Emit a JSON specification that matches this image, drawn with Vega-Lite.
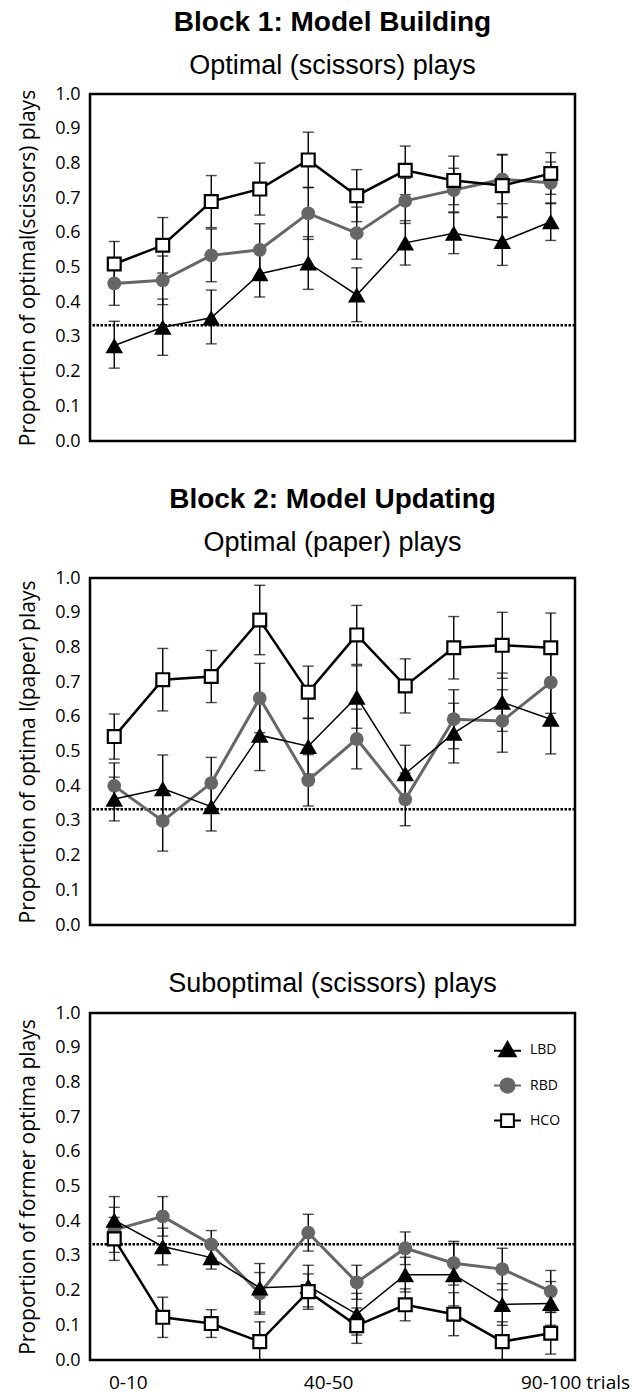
{
  "$schema": "https://vega.github.io/schema/vega-lite/v6.json",
  "padding": {"left": 16, "top": 7, "right": 0, "bottom": 0},
  "background": "white",
  "spacing": 32,
  "config": {
    "view": {"stroke": "black", "strokeWidth": 2.5},
    "axis": {"grid": false, "ticks": false, "domain": false, "labelFont": "Open Sans", "labelFontSize": 18, "labelColor": "black", "labelPadding": 10, "labelFlush": false, "titleFont": "Open Sans", "titleFontSize": 21, "titleFontWeight": "normal", "titleColor": "black", "titlePadding": 16},
    "title": {"font": "Liberation Sans", "subtitleFont": "Liberation Sans", "color": "black", "subtitleColor": "black", "anchor": "middle", "fontSize": 28, "fontWeight": "bold", "subtitleFontSize": 27, "subtitlePadding": 16, "offset": 6}
  },
  "datasets": {
    "d": [
      {"p":"a","g":"RBD","b":1,"v":0.454,"lo":0.391,"hi":0.517},
      {"p":"a","g":"RBD","b":2,"v":0.463,"lo":0.393,"hi":0.533},
      {"p":"a","g":"RBD","b":3,"v":0.535,"lo":0.459,"hi":0.611},
      {"p":"a","g":"RBD","b":4,"v":0.551,"lo":0.476,"hi":0.626},
      {"p":"a","g":"RBD","b":5,"v":0.656,"lo":0.581,"hi":0.731},
      {"p":"a","g":"RBD","b":6,"v":0.599,"lo":0.524,"hi":0.674},
      {"p":"a","g":"RBD","b":7,"v":0.692,"lo":0.627,"hi":0.757},
      {"p":"a","g":"RBD","b":8,"v":0.723,"lo":0.66,"hi":0.786},
      {"p":"a","g":"RBD","b":9,"v":0.754,"lo":0.684,"hi":0.824},
      {"p":"a","g":"RBD","b":10,"v":0.744,"lo":0.684,"hi":0.804},
      {"p":"a","g":"LBD","b":1,"v":0.275,"lo":0.21,"hi":0.345},
      {"p":"a","g":"LBD","b":2,"v":0.328,"lo":0.247,"hi":0.409},
      {"p":"a","g":"LBD","b":3,"v":0.355,"lo":0.28,"hi":0.435},
      {"p":"a","g":"LBD","b":4,"v":0.482,"lo":0.415,"hi":0.55},
      {"p":"a","g":"LBD","b":5,"v":0.513,"lo":0.437,"hi":0.589},
      {"p":"a","g":"LBD","b":6,"v":0.421,"lo":0.344,"hi":0.499},
      {"p":"a","g":"LBD","b":7,"v":0.571,"lo":0.507,"hi":0.635},
      {"p":"a","g":"LBD","b":8,"v":0.599,"lo":0.54,"hi":0.658},
      {"p":"a","g":"LBD","b":9,"v":0.575,"lo":0.506,"hi":0.644},
      {"p":"a","g":"LBD","b":10,"v":0.632,"lo":0.578,"hi":0.686},
      {"p":"a","g":"HCO","b":1,"v":0.51,"lo":0.445,"hi":0.575},
      {"p":"a","g":"HCO","b":2,"v":0.564,"lo":0.484,"hi":0.644},
      {"p":"a","g":"HCO","b":3,"v":0.69,"lo":0.615,"hi":0.765},
      {"p":"a","g":"HCO","b":4,"v":0.726,"lo":0.651,"hi":0.801},
      {"p":"a","g":"HCO","b":5,"v":0.81,"lo":0.73,"hi":0.89},
      {"p":"a","g":"HCO","b":6,"v":0.707,"lo":0.632,"hi":0.782},
      {"p":"a","g":"HCO","b":7,"v":0.78,"lo":0.71,"hi":0.85},
      {"p":"a","g":"HCO","b":8,"v":0.751,"lo":0.681,"hi":0.821},
      {"p":"a","g":"HCO","b":9,"v":0.736,"lo":0.646,"hi":0.826},
      {"p":"a","g":"HCO","b":10,"v":0.771,"lo":0.711,"hi":0.831},
      {"p":"b","g":"RBD","b":1,"v":0.401,"lo":0.335,"hi":0.467},
      {"p":"b","g":"RBD","b":2,"v":0.3,"lo":0.213,"hi":0.387},
      {"p":"b","g":"RBD","b":3,"v":0.409,"lo":0.334,"hi":0.483},
      {"p":"b","g":"RBD","b":4,"v":0.654,"lo":0.554,"hi":0.754},
      {"p":"b","g":"RBD","b":5,"v":0.417,"lo":0.343,"hi":0.491},
      {"p":"b","g":"RBD","b":6,"v":0.536,"lo":0.45,"hi":0.622},
      {"p":"b","g":"RBD","b":7,"v":0.362,"lo":0.286,"hi":0.438},
      {"p":"b","g":"RBD","b":8,"v":0.593,"lo":0.508,"hi":0.678},
      {"p":"b","g":"RBD","b":9,"v":0.588,"lo":0.498,"hi":0.678},
      {"p":"b","g":"RBD","b":10,"v":0.699,"lo":0.61,"hi":0.788},
      {"p":"b","g":"LBD","b":1,"v":0.363,"lo":0.3,"hi":0.426},
      {"p":"b","g":"LBD","b":2,"v":0.393,"lo":0.296,"hi":0.49},
      {"p":"b","g":"LBD","b":3,"v":0.341,"lo":0.271,"hi":0.411},
      {"p":"b","g":"LBD","b":4,"v":0.547,"lo":0.445,"hi":0.649},
      {"p":"b","g":"LBD","b":5,"v":0.515,"lo":0.435,"hi":0.595},
      {"p":"b","g":"LBD","b":6,"v":0.657,"lo":0.567,"hi":0.747},
      {"p":"b","g":"LBD","b":7,"v":0.436,"lo":0.354,"hi":0.518},
      {"p":"b","g":"LBD","b":8,"v":0.553,"lo":0.467,"hi":0.639},
      {"p":"b","g":"LBD","b":9,"v":0.642,"lo":0.558,"hi":0.726},
      {"p":"b","g":"LBD","b":10,"v":0.593,"lo":0.493,"hi":0.693},
      {"p":"b","g":"HCO","b":1,"v":0.543,"lo":0.478,"hi":0.608},
      {"p":"b","g":"HCO","b":2,"v":0.707,"lo":0.617,"hi":0.797},
      {"p":"b","g":"HCO","b":3,"v":0.716,"lo":0.641,"hi":0.791},
      {"p":"b","g":"HCO","b":4,"v":0.879,"lo":0.779,"hi":0.979},
      {"p":"b","g":"HCO","b":5,"v":0.671,"lo":0.596,"hi":0.746},
      {"p":"b","g":"HCO","b":6,"v":0.836,"lo":0.751,"hi":0.921},
      {"p":"b","g":"HCO","b":7,"v":0.689,"lo":0.611,"hi":0.767},
      {"p":"b","g":"HCO","b":8,"v":0.799,"lo":0.709,"hi":0.889},
      {"p":"b","g":"HCO","b":9,"v":0.806,"lo":0.711,"hi":0.901},
      {"p":"b","g":"HCO","b":10,"v":0.799,"lo":0.699,"hi":0.899},
      {"p":"c","g":"RBD","b":1,"v":0.375,"lo":0.31,"hi":0.44},
      {"p":"c","g":"RBD","b":2,"v":0.414,"lo":0.357,"hi":0.471},
      {"p":"c","g":"RBD","b":3,"v":0.333,"lo":0.293,"hi":0.373},
      {"p":"c","g":"RBD","b":4,"v":0.192,"lo":0.132,"hi":0.252},
      {"p":"c","g":"RBD","b":5,"v":0.367,"lo":0.314,"hi":0.42},
      {"p":"c","g":"RBD","b":6,"v":0.224,"lo":0.175,"hi":0.273},
      {"p":"c","g":"RBD","b":7,"v":0.322,"lo":0.275,"hi":0.369},
      {"p":"c","g":"RBD","b":8,"v":0.279,"lo":0.216,"hi":0.342},
      {"p":"c","g":"RBD","b":9,"v":0.262,"lo":0.202,"hi":0.322},
      {"p":"c","g":"RBD","b":10,"v":0.198,"lo":0.138,"hi":0.258},
      {"p":"c","g":"LBD","b":1,"v":0.403,"lo":0.335,"hi":0.471},
      {"p":"c","g":"LBD","b":2,"v":0.327,"lo":0.274,"hi":0.38},
      {"p":"c","g":"LBD","b":3,"v":0.295,"lo":0.262,"hi":0.328},
      {"p":"c","g":"LBD","b":4,"v":0.208,"lo":0.138,"hi":0.278},
      {"p":"c","g":"LBD","b":5,"v":0.213,"lo":0.153,"hi":0.273},
      {"p":"c","g":"LBD","b":6,"v":0.132,"lo":0.072,"hi":0.192},
      {"p":"c","g":"LBD","b":7,"v":0.246,"lo":0.196,"hi":0.296},
      {"p":"c","g":"LBD","b":8,"v":0.246,"lo":0.156,"hi":0.336},
      {"p":"c","g":"LBD","b":9,"v":0.16,"lo":0.1,"hi":0.22},
      {"p":"c","g":"LBD","b":10,"v":0.163,"lo":0.1,"hi":0.226},
      {"p":"c","g":"HCO","b":1,"v":0.349,"lo":0.287,"hi":0.411},
      {"p":"c","g":"HCO","b":2,"v":0.123,"lo":0.065,"hi":0.181},
      {"p":"c","g":"HCO","b":3,"v":0.105,"lo":0.065,"hi":0.145},
      {"p":"c","g":"HCO","b":4,"v":0.053,"lo":0.0,"hi":0.11},
      {"p":"c","g":"HCO","b":5,"v":0.197,"lo":0.146,"hi":0.248},
      {"p":"c","g":"HCO","b":6,"v":0.099,"lo":0.048,"hi":0.15},
      {"p":"c","g":"HCO","b":7,"v":0.159,"lo":0.113,"hi":0.205},
      {"p":"c","g":"HCO","b":8,"v":0.132,"lo":0.07,"hi":0.194},
      {"p":"c","g":"HCO","b":9,"v":0.053,"lo":0.0,"hi":0.11},
      {"p":"c","g":"HCO","b":10,"v":0.077,"lo":0.017,"hi":0.137}
    ],
    "chance": [{"c": 0.3333}]
  },
  "vconcat": [
    {
      "width": 485, "height": 347,
      "title": {"text": "Block 1: Model Building", "subtitle": "Optimal (scissors) plays"},
      "data": {"name": "d"},
      "encoding": {
        "x": {"field": "b", "type": "quantitative", "scale": {"domain": [0.5, 10.5], "nice": false, "zero": false}, "axis": null},
        "y": {"field": "v", "type": "quantitative", "scale": {"domain": [0, 1], "nice": false}, "axis": {"title": "Proportion of optimal(scissors) plays", "values": [0,0.1,0.2,0.3,0.4,0.5,0.6,0.7,0.8,0.9,1], "format": ".1f"}}
      },
      "layer": [
        {"data": {"name": "chance"}, "mark": {"type": "rule", "color": "black", "strokeWidth": 2.5, "strokeDash": [2.5, 1.5]},
         "encoding": {"x": null, "y": {"field": "c", "type": "quantitative", "scale": {"domain": [0, 1], "nice": false}, "axis": {"title": "Proportion of optimal(scissors) plays", "values": [0,0.1,0.2,0.3,0.4,0.5,0.6,0.7,0.8,0.9,1], "format": ".1f"}}}},
        {"transform": [{"filter": "datum.p==='a'"}], "mark": {"type": "errorbar", "ticks": true, "size": 11, "thickness": 1.4, "color": "black"},
         "encoding": {"y": {"field": "lo", "type": "quantitative", "scale": {"domain": [0, 1], "nice": false}, "axis": {"title": "Proportion of optimal(scissors) plays", "values": [0,0.1,0.2,0.3,0.4,0.5,0.6,0.7,0.8,0.9,1], "format": ".1f"}}, "y2": {"field": "hi"}}},
        {"transform": [{"filter": "datum.p==='a' && datum.g==='RBD'"}], "mark": {"type": "line", "color": "#666666", "strokeWidth": 3}},
        {"transform": [{"filter": "datum.p==='a' && datum.g==='RBD'"}], "mark": {"type": "point", "shape": "circle", "filled": true, "fill": "#666666", "stroke": "#666666", "strokeWidth": 0, "size": 190, "opacity": 1}},
        {"transform": [{"filter": "datum.p==='a' && datum.g==='LBD'"}], "mark": {"type": "line", "color": "black", "strokeWidth": 1.5}},
        {"transform": [{"filter": "datum.p==='a' && datum.g==='LBD'"}], "mark": {"type": "point", "shape": "triangle-up", "filled": true, "fill": "black", "strokeWidth": 0, "size": 310, "opacity": 1}},
        {"transform": [{"filter": "datum.p==='a' && datum.g==='HCO'"}], "mark": {"type": "line", "color": "black", "strokeWidth": 2.5}},
        {"transform": [{"filter": "datum.p==='a' && datum.g==='HCO'"}], "mark": {"type": "point", "shape": "square", "filled": true, "fill": "white", "stroke": "black", "strokeWidth": 2.2, "size": 165, "opacity": 1}},
        {"data": {"values": [{"letter": "a"}]}, "mark": {"type": "text", "font": "Liberation Sans", "fontWeight": "bold", "fontSize": 28, "align": "center", "baseline": "alphabetic", "color": "black"},
         "encoding": {"x": {"datum": 1.06, "type": "quantitative"}, "y": {"datum": 0.899, "type": "quantitative"}, "text": {"field": "letter"}}}
      ]
    },
    {
      "width": 485, "height": 347,
      "title": {"text": "Block 2: Model Updating", "subtitle": "Optimal (paper) plays", "offset": 13},
      "data": {"name": "d"},
      "encoding": {
        "x": {"field": "b", "type": "quantitative", "scale": {"domain": [0.5, 10.5], "nice": false, "zero": false}, "axis": null},
        "y": {"field": "v", "type": "quantitative", "scale": {"domain": [0, 1], "nice": false}, "axis": {"title": "Proportion of optima l(paper) plays", "values": [0,0.1,0.2,0.3,0.4,0.5,0.6,0.7,0.8,0.9,1], "format": ".1f"}}
      },
      "layer": [
        {"data": {"name": "chance"}, "mark": {"type": "rule", "color": "black", "strokeWidth": 2.5, "strokeDash": [2.5, 1.5]},
         "encoding": {"x": null, "y": {"field": "c", "type": "quantitative", "scale": {"domain": [0, 1], "nice": false}, "axis": {"title": "Proportion of optima l(paper) plays", "values": [0,0.1,0.2,0.3,0.4,0.5,0.6,0.7,0.8,0.9,1], "format": ".1f"}}}},
        {"transform": [{"filter": "datum.p==='b'"}], "mark": {"type": "errorbar", "ticks": true, "size": 11, "thickness": 1.4, "color": "black"},
         "encoding": {"y": {"field": "lo", "type": "quantitative", "scale": {"domain": [0, 1], "nice": false}, "axis": {"title": "Proportion of optima l(paper) plays", "values": [0,0.1,0.2,0.3,0.4,0.5,0.6,0.7,0.8,0.9,1], "format": ".1f"}}, "y2": {"field": "hi"}}},
        {"transform": [{"filter": "datum.p==='b' && datum.g==='RBD'"}], "mark": {"type": "line", "color": "#666666", "strokeWidth": 3}},
        {"transform": [{"filter": "datum.p==='b' && datum.g==='RBD'"}], "mark": {"type": "point", "shape": "circle", "filled": true, "fill": "#666666", "stroke": "#666666", "strokeWidth": 0, "size": 190, "opacity": 1}},
        {"transform": [{"filter": "datum.p==='b' && datum.g==='LBD'"}], "mark": {"type": "line", "color": "black", "strokeWidth": 1.5}},
        {"transform": [{"filter": "datum.p==='b' && datum.g==='LBD'"}], "mark": {"type": "point", "shape": "triangle-up", "filled": true, "fill": "black", "strokeWidth": 0, "size": 310, "opacity": 1}},
        {"transform": [{"filter": "datum.p==='b' && datum.g==='HCO'"}], "mark": {"type": "line", "color": "black", "strokeWidth": 2.5}},
        {"transform": [{"filter": "datum.p==='b' && datum.g==='HCO'"}], "mark": {"type": "point", "shape": "square", "filled": true, "fill": "white", "stroke": "black", "strokeWidth": 2.2, "size": 165, "opacity": 1}},
        {"data": {"values": [{"letter": "b"}]}, "mark": {"type": "text", "font": "Liberation Sans", "fontWeight": "bold", "fontSize": 28, "align": "center", "baseline": "alphabetic", "color": "black"},
         "encoding": {"x": {"datum": 1.06, "type": "quantitative"}, "y": {"datum": 0.897, "type": "quantitative"}, "text": {"field": "letter"}}}
      ]
    },
    {
      "width": 485, "height": 347,
      "title": {"text": "Suboptimal (scissors) plays", "fontWeight": "normal", "fontSize": 27, "offset": 6},
      "data": {"name": "d"},
      "encoding": {
        "x": {"field": "b", "type": "quantitative", "scale": {"domain": [0.5, 10.5], "nice": false, "zero": false}, "axis": {"title": null, "values": [1.28, 5.41, 10.5], "labelExpr": "datum.value < 3 ? '0-10' : datum.value < 8 ? '40-50' : '90-100 trials'", "labelFontSize": 19, "labelOverlap": false, "labelBound": false, "labelPadding": 13}},
        "y": {"field": "v", "type": "quantitative", "scale": {"domain": [0, 1], "nice": false}, "axis": {"title": "Proportion of former optima plays", "values": [0,0.1,0.2,0.3,0.4,0.5,0.6,0.7,0.8,0.9,1], "format": ".1f"}}
      },
      "layer": [
        {"data": {"name": "chance"}, "mark": {"type": "rule", "color": "black", "strokeWidth": 2.5, "strokeDash": [2.5, 1.5]},
         "encoding": {"x": null, "y": {"field": "c", "type": "quantitative", "scale": {"domain": [0, 1], "nice": false}, "axis": {"title": "Proportion of former optima plays", "values": [0,0.1,0.2,0.3,0.4,0.5,0.6,0.7,0.8,0.9,1], "format": ".1f"}}}},
        {"transform": [{"filter": "datum.p==='c'"}], "mark": {"type": "errorbar", "ticks": true, "size": 11, "thickness": 1.4, "color": "black"},
         "encoding": {"y": {"field": "lo", "type": "quantitative", "scale": {"domain": [0, 1], "nice": false}, "axis": {"title": "Proportion of former optima plays", "values": [0,0.1,0.2,0.3,0.4,0.5,0.6,0.7,0.8,0.9,1], "format": ".1f"}}, "y2": {"field": "hi"}}},
        {"transform": [{"filter": "datum.p==='c' && datum.g==='RBD'"}], "mark": {"type": "line", "color": "#666666", "strokeWidth": 3}},
        {"transform": [{"filter": "datum.p==='c' && datum.g==='RBD'"}], "mark": {"type": "point", "shape": "circle", "filled": true, "fill": "#666666", "stroke": "#666666", "strokeWidth": 0, "size": 190, "opacity": 1}},
        {"transform": [{"filter": "datum.p==='c' && datum.g==='LBD'"}], "mark": {"type": "line", "color": "black", "strokeWidth": 1.5}},
        {"transform": [{"filter": "datum.p==='c' && datum.g==='LBD'"}], "mark": {"type": "point", "shape": "triangle-up", "filled": true, "fill": "black", "strokeWidth": 0, "size": 310, "opacity": 1}},
        {"transform": [{"filter": "datum.p==='c' && datum.g==='HCO'"}], "mark": {"type": "line", "color": "black", "strokeWidth": 2.5}},
        {"transform": [{"filter": "datum.p==='c' && datum.g==='HCO'"}], "mark": {"type": "point", "shape": "square", "filled": true, "fill": "white", "stroke": "black", "strokeWidth": 2.2, "size": 165, "opacity": 1}},
        {"data": {"values": [{"letter": "c"}]}, "mark": {"type": "text", "font": "Liberation Sans", "fontWeight": "bold", "fontSize": 28, "align": "center", "baseline": "alphabetic", "color": "black"},
         "encoding": {"x": {"datum": 1.06, "type": "quantitative"}, "y": {"datum": 0.872, "type": "quantitative"}, "text": {"field": "letter"}}},
        {"transform": [{"filter": "datum.p==='c'"}], "mark": {"type": "point", "filled": true, "opacity": 1, "size": 0, "strokeWidth": 2},
         "encoding": {
           "shape": {"field": "g", "type": "nominal", "scale": {"domain": ["LBD", "RBD", "HCO"], "range": ["M-1.8,0.15H1.8M0,-1L1.1,0.9L-1.1,0.9Z", "M-1.8,0H1.8M0.95,0A0.95,0.95,0,1,1,-0.95,0A0.95,0.95,0,1,1,0.95,0Z", "M-1.8,0H-0.85M0.85,0H1.8M-0.85,-0.85H0.85V0.85H-0.85Z"]},
                     "legend": {"title": null, "orient": "none", "legendX": 409, "legendY": 947, "padding": 0, "labelFont": "Open Sans", "labelFontSize": 14, "labelColor": "black", "labelOffset": 14, "rowPadding": 13, "symbolSize": 225, "symbolStrokeWidth": 2}},
           "fill": {"field": "g", "type": "nominal", "scale": {"domain": ["LBD", "RBD", "HCO"], "range": ["black", "#666666", "white"]},
                     "legend": {"title": null, "orient": "none", "legendX": 409, "legendY": 947, "padding": 0, "labelFont": "Open Sans", "labelFontSize": 14, "labelColor": "black", "labelOffset": 14, "rowPadding": 13, "symbolSize": 225, "symbolStrokeWidth": 2}},
           "stroke": {"field": "g", "type": "nominal", "scale": {"domain": ["LBD", "RBD", "HCO"], "range": ["black", "#666666", "black"]},
                     "legend": {"title": null, "orient": "none", "legendX": 409, "legendY": 947, "padding": 0, "labelFont": "Open Sans", "labelFontSize": 14, "labelColor": "black", "labelOffset": 14, "rowPadding": 13, "symbolSize": 225, "symbolStrokeWidth": 2}}
         }}
      ]
    }
  ]
}
